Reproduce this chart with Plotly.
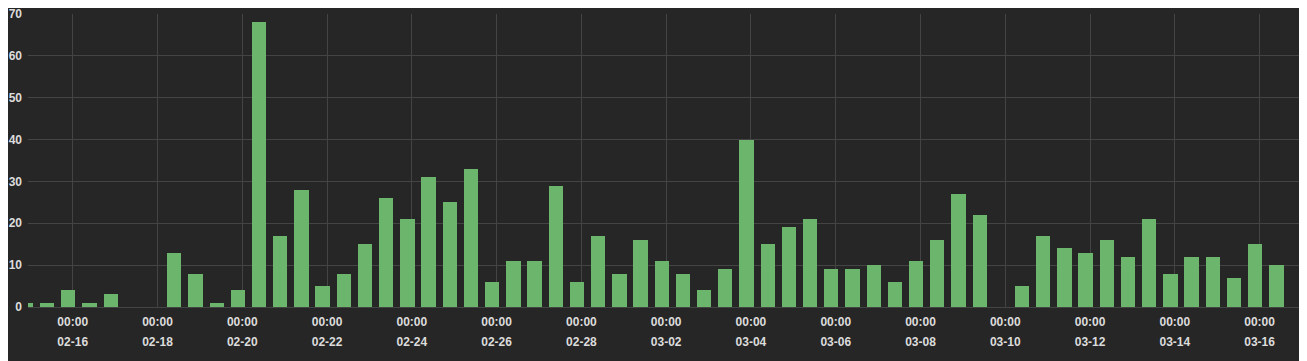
import pandas as pd
import plotly.graph_objects as go

# 12-hour buckets
bucket_start = "2023-02-14 21:30"
n_buckets = 60
counts = [1, 1, 4, 1, 3, 0, 0, 13, 8, 1,
          4, 68, 17, 28, 5, 8, 15, 26, 21, 31,
          25, 33, 6, 11, 11, 29, 6, 17, 8, 16,
          11, 8, 4, 9, 40, 15, 19, 21, 9, 9,
          10, 6, 11, 16, 27, 22, 0, 5, 17, 14,
          13, 16, 12, 21, 8, 12, 12, 7, 15, 10]
times = pd.date_range(bucket_start, periods=n_buckets, freq="12h")

tick_dates = ["2023-02-16", "2023-02-18", "2023-02-20", "2023-02-22", "2023-02-24",
              "2023-02-26", "2023-02-28", "2023-03-02", "2023-03-04", "2023-03-06",
              "2023-03-08", "2023-03-10", "2023-03-12", "2023-03-14", "2023-03-16"]
tick_times = ["00:00"] * len(tick_dates)
tick_days = ["02-16", "02-18", "02-20", "02-22", "02-24", "02-26", "02-28", "03-02",
             "03-04", "03-06", "03-08", "03-10", "03-12", "03-14", "03-16"]

bg = "#262626"
grid = "#444444"
txt = "#dcdcdc"
fnt = "Liberation Sans, Arial, sans-serif"

fig = go.Figure(go.Bar(
    x=times, y=counts,
    width=8.1 * 3600 * 1000,
    marker=dict(color="#6cb56c", line=dict(width=0)),
))

x_range = ["2023-02-14 22:41", "2023-03-16 23:26"]

fig.update_layout(
    width=1299, height=353,
    paper_bgcolor=bg, plot_bgcolor=bg,
    margin=dict(l=20, r=6, t=6, b=54),
    showlegend=False,
    font=dict(family=fnt, size=12, color=txt, weight="bold"),
    bargap=0,
    xaxis=dict(
        range=x_range, type="date",
        tickvals=tick_dates, ticktext=tick_times,
        showgrid=True, gridcolor=grid, gridwidth=1,
        zeroline=False, showline=False, ticks="",
        ticklabelstandoff=6, automargin=False, ticklabeloverflow="allow",
        tickfont=dict(family=fnt, size=12, color=txt, weight="bold"),
    ),
    xaxis2=dict(
        range=x_range, type="date", overlaying="x", side="bottom", anchor="y",
        tickvals=tick_dates, ticktext=tick_days,
        showgrid=False, zeroline=False, showline=False, ticks="",
        ticklabelstandoff=26, automargin=False, ticklabeloverflow="allow",
        tickfont=dict(family=fnt, size=12, color=txt, weight="bold"),
    ),
    yaxis=dict(
        range=[0, 70], dtick=10,
        showgrid=True, gridcolor=grid, gridwidth=1,
        zeroline=True, zerolinecolor=grid, zerolinewidth=1,
        showline=False, ticks="", ticklabelstandoff=5, automargin=False,
        ticklabeloverflow="allow",
        tickfont=dict(family=fnt, size=12, color=txt, weight="bold"),
    ),
)
# invisible trace to activate the second x-axis
fig.add_trace(go.Scatter(x=[times[0]], y=[None], xaxis="x2", yaxis="y",
                         mode="markers", showlegend=False, hoverinfo="skip"))

fig.write_html("out.html")
